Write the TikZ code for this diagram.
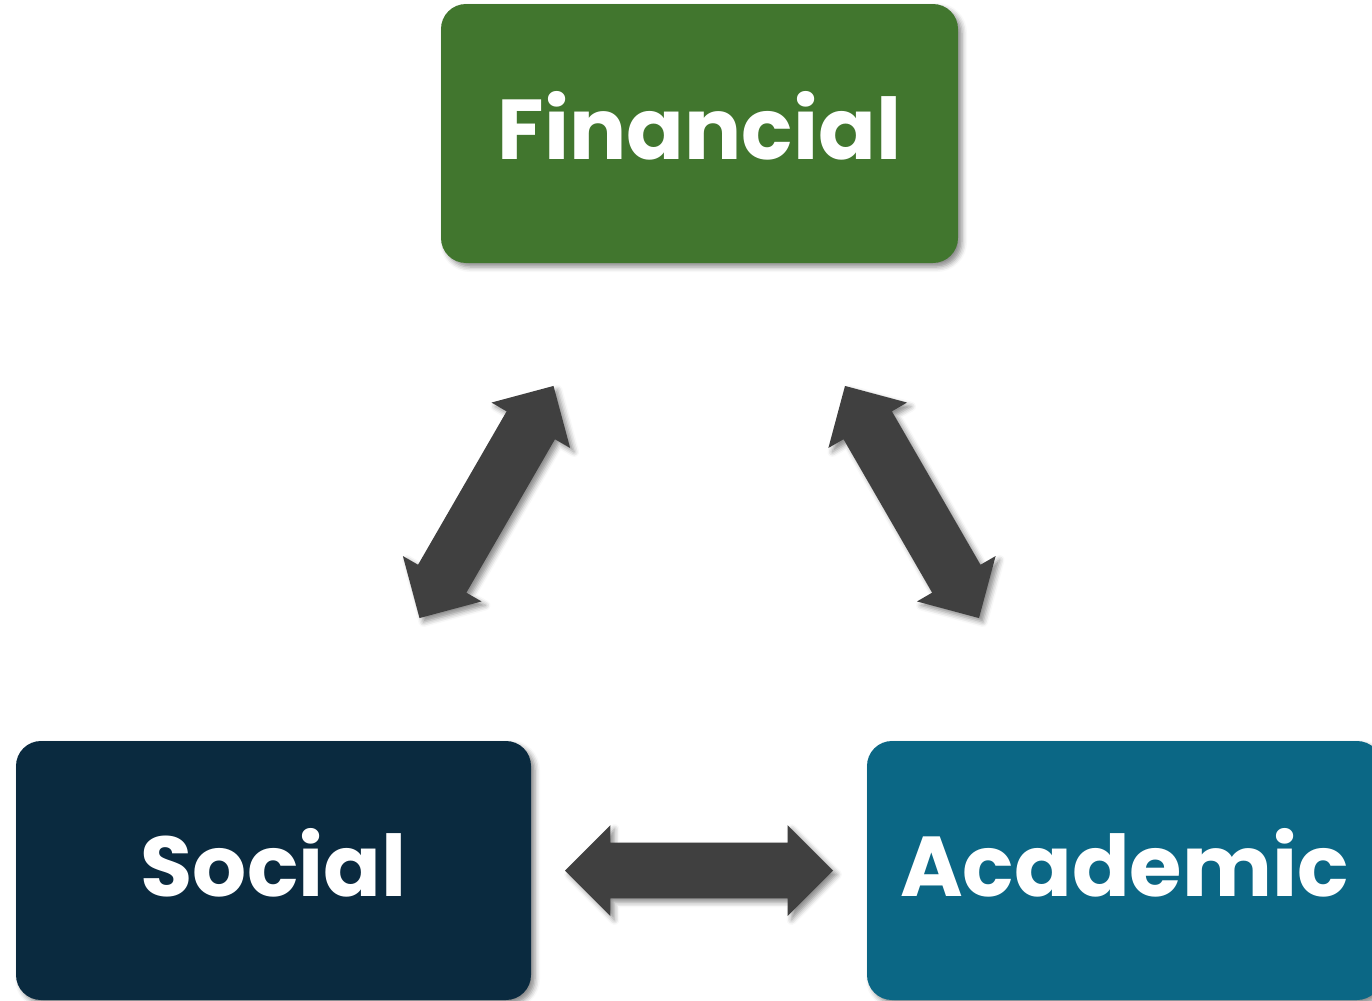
\documentclass[tikz,border=0pt]{standalone}
\usepackage{fontspec}
\newfontfamily\labelfont{Poppins}
\usetikzlibrary{shapes.arrows,shadows.blur,calc}
\definecolor{fingreen}{RGB}{65,118,46}
\definecolor{socnavy}{RGB}{10,42,63}
\definecolor{acateal}{RGB}{11,103,133}
\definecolor{arrowgray}{RGB}{64,64,64}
\begin{document}
\begin{tikzpicture}[x=0.5pt,y=-0.5pt,
  softshadow/.style={blur shadow={shadow xshift=2pt, shadow yshift=-2pt, shadow blur radius=2.5pt, shadow opacity=45}},
  catbox/.style={rounded corners=12.5pt, minimum width=257.5pt, minimum height=129.5pt,
    inner sep=0pt, text=white, font=\labelfont\bfseries\fontsize{42.5}{48}\selectfont,
    text height=30.5pt, text depth=5pt, softshadow},
  dblarrow/.style={double arrow, fill=arrowgray, minimum height=134pt, minimum width=45pt,
    text height=13.75pt, text depth=13.75pt, text width=0pt,
    double arrow head extend=8.75pt, inner sep=0pt, softshadow}]
\useasboundingbox (0,0) rectangle (1372,1001);
\node[catbox, fill=fingreen, minimum width=258.5pt] (fin) at (699.5,133.5) {Financial};
\node[catbox, fill=socnavy] (soc) at (273.5,870.5) {Social};
\node[catbox, fill=acateal] (aca) at (1124.5,870.5) {Academic};
\node[dblarrow, rotate=60] (finsoc) at ($(fin)!0.5!(soc)$) {};
\node[dblarrow, rotate=-60] (finaca) at ($(fin)!0.5!(aca)$) {};
\node[dblarrow] (socaca) at ($(soc)!0.5!(aca)$) {};
\end{tikzpicture}
\end{document}
